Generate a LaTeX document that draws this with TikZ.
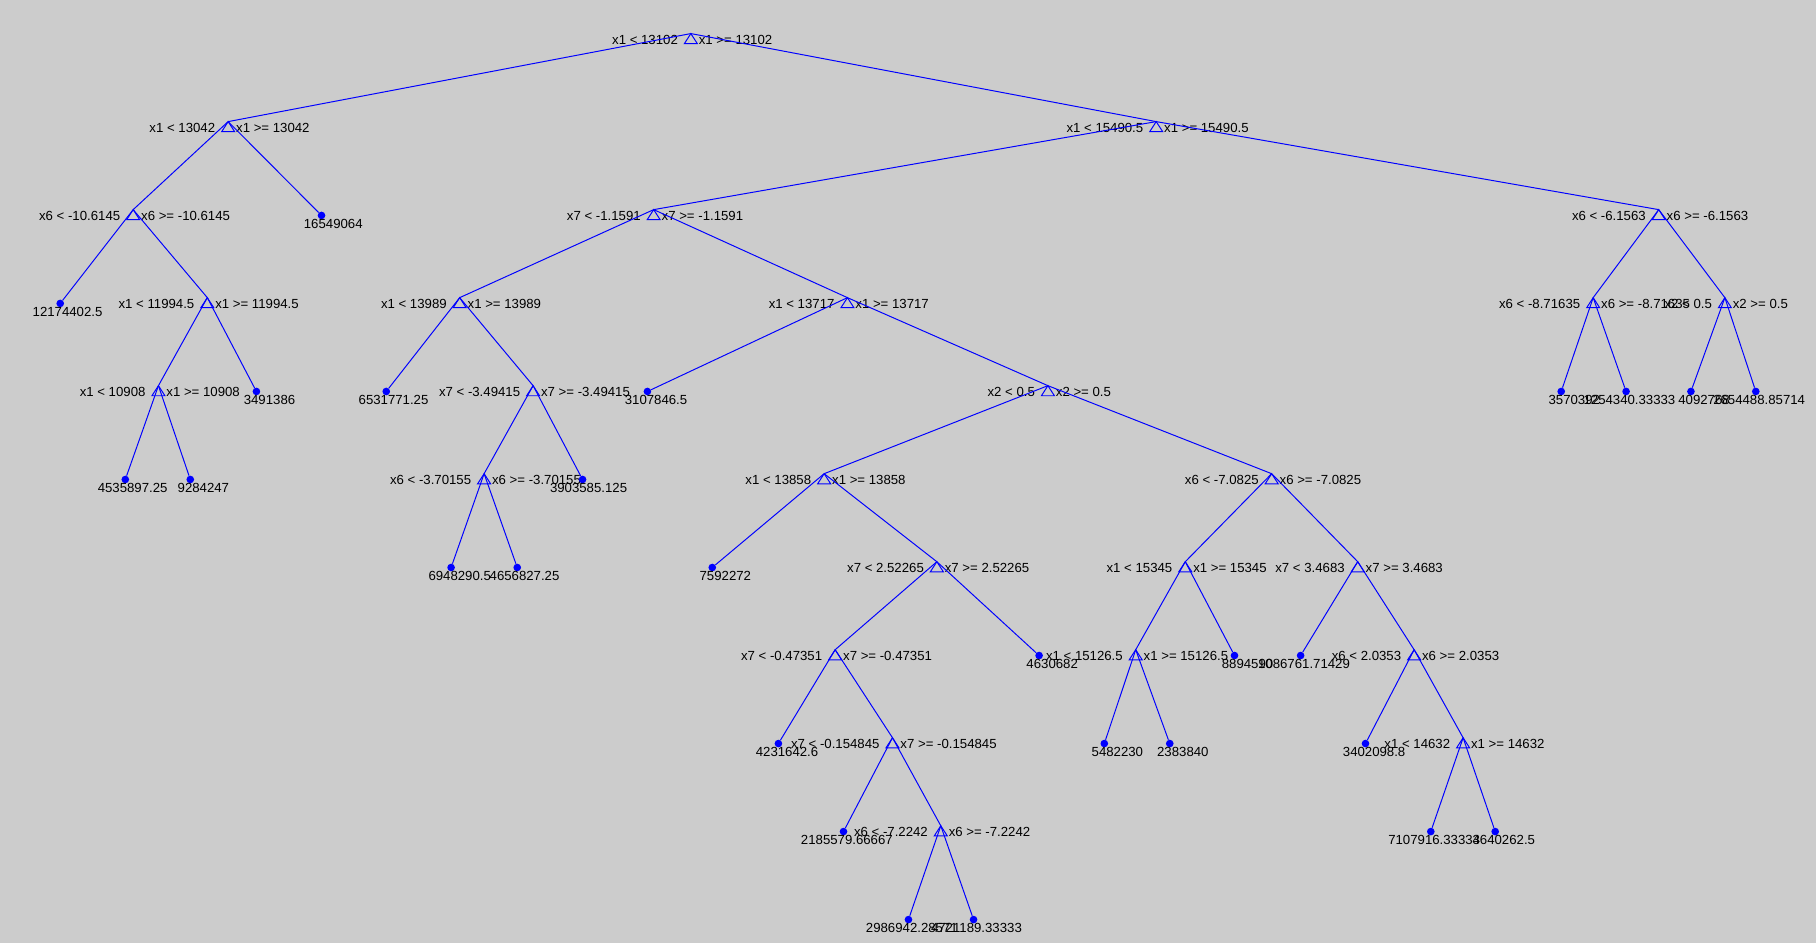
\documentclass[tikz,border=0pt]{standalone}
\usepackage{fontspec}
\setmainfont{Liberation Sans}
\definecolor{panel}{RGB}{204,204,204}
\definecolor{edgeblue}{RGB}{0,0,255}

% split: name, x, level y, left test, right test
\newcommand{\splitnode}[5]{%
  \coordinate (#1) at (#2,#3-5);
  \draw[edge] (#1) -- ++(-5.6,8.7) -- ++(11.2,0) -- cycle;
  \node[cond, anchor=base east] (#1-l) at (#2-11,#3+4.1) {#4};
  \node[cond, anchor=base west] (#1-r) at (#2+6.7,#3+4.1) {#5};
}
% leaf: name, x, level y, value, number of chars
\newcommand{\leafnode}[5]{%
  \node[leaf] (#1) at (#2,#3) {};
  \node[cond, anchor=base west] (#1-v) at (#2+19-4.3*#5,#3+11) {#4};
}

\begin{document}
\begin{tikzpicture}[x=1pt, y=-1pt,
  edge/.style={draw=edgeblue, line width=0.85pt},
  leaf/.style={circle, fill=edgeblue, inner sep=0pt, minimum size=6.6pt},
  cond/.style={inner sep=0pt, font=\fontsize{11.4}{13}\selectfont}]
\fill[panel] (0,0) rectangle (1568,814);
\useasboundingbox (0,0) rectangle (1568,814);

\splitnode{sid0}{596.5}{34}{x1 < 13102}{x1 >= 13102}
\splitnode{sid1}{197}{110}{x1 < 13042}{x1 >= 13042}
\splitnode{sid2}{998.3}{110}{x1 < 15490.5}{x1 >= 15490.5}
\draw[edge] (sid0) -- (sid1);
\draw[edge] (sid0) -- (sid2);

% left part
\splitnode{sid3}{115}{186}{x6 < -10.6145}{x6 >= -10.6145}
\leafnode{lid0}{277.6}{186}{16549064}{8}
\draw[edge] (sid1) -- (sid3);
\draw[edge] (sid1) -- (lid0);
\leafnode{lid1}{52}{262}{12174402.5}{10}
\splitnode{sid6}{179}{262}{x1 < 11994.5}{x1 >= 11994.5}
\draw[edge] (sid3) -- (lid1);
\draw[edge] (sid3) -- (sid6);
\splitnode{sid11}{136.8}{338}{x1 < 10908}{x1 >= 10908}
\leafnode{lid2}{221.4}{338}{3491386}{7}
\draw[edge] (sid6) -- (sid11);
\draw[edge] (sid6) -- (lid2);
\leafnode{lid3}{108.2}{414}{4535897.25}{10}
\leafnode{lid4}{164.3}{414}{9284247}{7}
\draw[edge] (sid11) -- (lid3);
\draw[edge] (sid11) -- (lid4);

% right part
\splitnode{sid4}{564.4}{186}{x7 < -1.1591}{x7 >= -1.1591}
\splitnode{sid5}{1432.2}{186}{x6 < -6.1563}{x6 >= -6.1563}
\draw[edge] (sid2) -- (sid4);
\draw[edge] (sid2) -- (sid5);
\splitnode{sid7}{396.9}{262}{x1 < 13989}{x1 >= 13989}
\splitnode{sid8}{731.7}{262}{x1 < 13717}{x1 >= 13717}
\draw[edge] (sid4) -- (sid7);
\draw[edge] (sid4) -- (sid8);
\leafnode{lid5}{333.5}{338}{6531771.25}{10}
\splitnode{sid12}{460.3}{338}{x7 < -3.49415}{x7 >= -3.49415}
\draw[edge] (sid7) -- (lid5);
\draw[edge] (sid7) -- (sid12);
\splitnode{sid14}{418}{414}{x6 < -3.70155}{x6 >= -3.70155}
\leafnode{lid6}{503}{414}{3903585.125}{11}
\draw[edge] (sid12) -- (sid14);
\draw[edge] (sid12) -- (lid6);
\leafnode{lid7}{389.5}{490}{6948290.5}{9}
\leafnode{lid8}{446.6}{490}{4656827.25}{10}
\draw[edge] (sid14) -- (lid7);
\draw[edge] (sid14) -- (lid8);

\leafnode{lid9}{559}{338}{3107846.5}{9}
\splitnode{sid13}{904.8}{338}{x2 < 0.5}{x2 >= 0.5}
\draw[edge] (sid8) -- (lid9);
\draw[edge] (sid8) -- (sid13);
\splitnode{sid15}{711.6}{414}{x1 < 13858}{x1 >= 13858}
\splitnode{sid16}{1098}{414}{x6 < -7.0825}{x6 >= -7.0825}
\draw[edge] (sid13) -- (sid15);
\draw[edge] (sid13) -- (sid16);
\leafnode{lid10}{615}{490}{7592272}{7}
\splitnode{sid17}{808.9}{490}{x7 < 2.52265}{x7 >= 2.52265}
\draw[edge] (sid15) -- (lid10);
\draw[edge] (sid15) -- (sid17);
\splitnode{sid20}{721.1}{566}{x7 < -0.47351}{x7 >= -0.47351}
\leafnode{lid11}{897.2}{566}{4630682}{7}
\draw[edge] (sid17) -- (sid20);
\draw[edge] (sid17) -- (lid11);
\leafnode{lid12}{672.1}{642}{4231642.6}{9}
\splitnode{sid23}{770.6}{642}{x7 < -0.154845}{x7 >= -0.154845}
\draw[edge] (sid20) -- (lid12);
\draw[edge] (sid20) -- (sid23);
\leafnode{lid13}{728.3}{718}{2185579.66667}{13}
\splitnode{sid25}{812.3}{718}{x6 < -7.2242}{x6 >= -7.2242}
\draw[edge] (sid23) -- (lid13);
\draw[edge] (sid23) -- (sid25);
\leafnode{lid14}{784.4}{794}{2986942.28571}{13}
\leafnode{lid15}{840.6}{794}{4721189.33333}{13}
\draw[edge] (sid25) -- (lid14);
\draw[edge] (sid25) -- (lid15);

\splitnode{sid18}{1023.4}{490}{x1 < 15345}{x1 >= 15345}
\splitnode{sid19}{1172.3}{490}{x7 < 3.4683}{x7 >= 3.4683}
\draw[edge] (sid16) -- (sid18);
\draw[edge] (sid16) -- (sid19);
\splitnode{sid21}{980.6}{566}{x1 < 15126.5}{x1 >= 15126.5}
\leafnode{lid16}{1065.9}{566}{8894590}{7}
\draw[edge] (sid18) -- (sid21);
\draw[edge] (sid18) -- (lid16);
\leafnode{lid17}{953.5}{642}{5482230}{7}
\leafnode{lid18}{1010}{642}{2383840}{7}
\draw[edge] (sid21) -- (lid17);
\draw[edge] (sid21) -- (lid18);
\leafnode{lid19}{1123}{566}{1086761.71429}{13}
\splitnode{sid22}{1221}{566}{x6 < 2.0353}{x6 >= 2.0353}
\draw[edge] (sid19) -- (lid19);
\draw[edge] (sid19) -- (sid22);
\leafnode{lid20}{1179}{642}{3402098.8}{9}
\splitnode{sid24}{1263.3}{642}{x1 < 14632}{x1 >= 14632}
\draw[edge] (sid22) -- (lid20);
\draw[edge] (sid22) -- (sid24);
\leafnode{lid21}{1235.4}{718}{7107916.33333}{13}
\leafnode{lid22}{1291}{718}{4640262.5}{9}
\draw[edge] (sid24) -- (lid21);
\draw[edge] (sid24) -- (lid22);

\splitnode{sid9}{1375.6}{262}{x6 < -8.71635}{x6 >= -8.71635}
\splitnode{sid10}{1489.3}{262}{x2 < 0.5}{x2 >= 0.5}
\draw[edge] (sid5) -- (sid9);
\draw[edge] (sid5) -- (sid10);
\leafnode{lid23}{1348}{338}{3570392}{7}
\leafnode{lid24}{1404}{338}{1254340.33333}{13}
\draw[edge] (sid9) -- (lid23);
\draw[edge] (sid9) -- (lid24);
\leafnode{lid25}{1460}{338}{4092768}{7}
\leafnode{lid26}{1516}{338}{2654488.85714}{13}
\draw[edge] (sid10) -- (lid25);
\draw[edge] (sid10) -- (lid26);

\end{tikzpicture}
\end{document}
